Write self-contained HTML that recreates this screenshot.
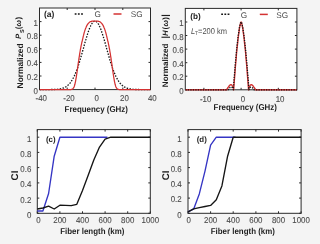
<!DOCTYPE html>
<html><head><meta charset="utf-8"><style>
html,body{margin:0;padding:0;background:#f4f4f4;width:320px;height:244px;overflow:hidden}
svg{display:block;will-change:transform}
</style></head><body>
<svg text-rendering="geometricPrecision" width="320" height="244" viewBox="0 0 320 244" font-family='"Liberation Sans", sans-serif'>
<rect width="320" height="244" fill="#f4f4f4"/>
<clipPath id="ca"><rect x="39.5" y="8.0" width="111.0" height="83.6"/></clipPath>
<rect x="39.5" y="8" width="111" height="81.6" fill="#fff"/>
<rect x="39.5" y="8" width="111" height="81.6" fill="none" stroke="#2a2a2a" stroke-width="1.0"/>
<path d="M39.5 89.6v-2.0M39.5 8v2.0M67.2 89.6v-2.0M67.2 8v2.0M95 89.6v-2.0M95 8v2.0M122.8 89.6v-2.0M122.8 8v2.0M150.5 89.6v-2.0M150.5 8v2.0M39.5 89.6h2.0M150.5 89.6h-2.0M39.5 76h2.0M150.5 76h-2.0M39.5 62.4h2.0M150.5 62.4h-2.0M39.5 48.8h2.0M150.5 48.8h-2.0M39.5 35.2h2.0M150.5 35.2h-2.0M39.5 21.6h2.0M150.5 21.6h-2.0" stroke="#2a2a2a" stroke-width="1" fill="none"/>
<path d="M39.5 89.6 L39.8 89.6 L40.2 89.6 L40.5 89.6 L40.9 89.6 L41.2 89.6 L41.6 89.6 L41.9 89.6 L42.3 89.6 L42.6 89.6 L43 89.6 L43.3 89.6 L43.7 89.6 L44 89.6 L44.4 89.6 L44.7 89.6 L45 89.6 L45.4 89.6 L45.7 89.6 L46.1 89.6 L46.4 89.6 L46.8 89.6 L47.1 89.6 L47.5 89.6 L47.8 89.6 L48.2 89.6 L48.5 89.6 L48.9 89.6 L49.2 89.6 L49.6 89.6 L49.9 89.6 L50.3 89.6 L50.6 89.6 L50.9 89.6 L51.3 89.5 L51.6 89.5 L52 89.5 L52.3 89.5 L52.7 89.5 L53 89.5 L53.4 89.5 L53.7 89.5 L54.1 89.5 L54.4 89.5 L54.8 89.4 L55.1 89.4 L55.5 89.4 L55.8 89.4 L56.1 89.4 L56.5 89.3 L56.8 89.3 L57.2 89.3 L57.5 89.3 L57.9 89.2 L58.2 89.2 L58.6 89.1 L58.9 89.1 L59.3 89 L59.6 89 L60 88.9 L60.3 88.9 L60.7 88.8 L61 88.7 L61.4 88.6 L61.7 88.6 L62 88.5 L62.4 88.4 L62.7 88.2 L63.1 88.1 L63.4 88 L63.8 87.9 L64.1 87.7 L64.5 87.6 L64.8 87.4 L65.2 87.2 L65.5 87 L65.9 86.8 L66.2 86.6 L66.6 86.4 L66.9 86.1 L67.2 85.8 L67.6 85.6 L67.9 85.3 L68.3 84.9 L68.6 84.6 L69 84.3 L69.3 83.9 L69.7 83.5 L70 83.1 L70.4 82.6 L70.7 82.2 L71.1 81.7 L71.4 81.2 L71.8 80.7 L72.1 80.1 L72.5 79.5 L72.8 78.9 L73.1 78.3 L73.5 77.6 L73.8 76.9 L74.2 76.2 L74.5 75.5 L74.9 74.7 L75.2 73.9 L75.6 73.1 L75.9 72.2 L76.3 71.4 L76.6 70.4 L77 69.5 L77.3 68.5 L77.7 67.6 L78 66.5 L78.3 65.5 L78.7 64.5 L79 63.4 L79.4 62.3 L79.7 61.1 L80.1 60 L80.4 58.8 L80.8 57.6 L81.1 56.5 L81.5 55.2 L81.8 54 L82.2 52.8 L82.5 51.5 L82.9 50.3 L83.2 49.1 L83.6 47.8 L83.9 46.6 L84.2 45.3 L84.6 44.1 L84.9 42.8 L85.3 41.6 L85.6 40.4 L86 39.2 L86.3 38 L86.7 36.9 L87 35.7 L87.4 34.6 L87.7 33.5 L88.1 32.5 L88.4 31.4 L88.8 30.5 L89.1 29.5 L89.5 28.6 L89.8 27.7 L90.1 26.9 L90.5 26.2 L90.8 25.4 L91.2 24.8 L91.5 24.1 L91.9 23.6 L92.2 23.1 L92.6 22.6 L92.9 22.2 L93.3 21.9 L93.6 21.6 L94 21.4 L94.3 21.2 L94.7 21.1 L95 21.1 L95.3 21.1 L95.7 21.2 L96 21.4 L96.4 21.6 L96.7 21.9 L97.1 22.2 L97.4 22.6 L97.8 23.1 L98.1 23.6 L98.5 24.1 L98.8 24.8 L99.2 25.4 L99.5 26.2 L99.9 26.9 L100.2 27.7 L100.6 28.6 L100.9 29.5 L101.2 30.5 L101.6 31.4 L101.9 32.5 L102.3 33.5 L102.6 34.6 L103 35.7 L103.3 36.9 L103.7 38 L104 39.2 L104.4 40.4 L104.7 41.6 L105.1 42.8 L105.4 44.1 L105.8 45.3 L106.1 46.6 L106.4 47.8 L106.8 49.1 L107.1 50.3 L107.5 51.5 L107.8 52.8 L108.2 54 L108.5 55.2 L108.9 56.5 L109.2 57.6 L109.6 58.8 L109.9 60 L110.3 61.1 L110.6 62.3 L111 63.4 L111.3 64.5 L111.7 65.5 L112 66.5 L112.3 67.6 L112.7 68.5 L113 69.5 L113.4 70.4 L113.7 71.4 L114.1 72.2 L114.4 73.1 L114.8 73.9 L115.1 74.7 L115.5 75.5 L115.8 76.2 L116.2 76.9 L116.5 77.6 L116.9 78.3 L117.2 78.9 L117.5 79.5 L117.9 80.1 L118.2 80.7 L118.6 81.2 L118.9 81.7 L119.3 82.2 L119.6 82.6 L120 83.1 L120.3 83.5 L120.7 83.9 L121 84.3 L121.4 84.6 L121.7 84.9 L122.1 85.3 L122.4 85.6 L122.8 85.8 L123.1 86.1 L123.4 86.4 L123.8 86.6 L124.1 86.8 L124.5 87 L124.8 87.2 L125.2 87.4 L125.5 87.6 L125.9 87.7 L126.2 87.9 L126.6 88 L126.9 88.1 L127.3 88.2 L127.6 88.4 L128 88.5 L128.3 88.6 L128.6 88.6 L129 88.7 L129.3 88.8 L129.7 88.9 L130 88.9 L130.4 89 L130.7 89 L131.1 89.1 L131.4 89.1 L131.8 89.2 L132.1 89.2 L132.5 89.3 L132.8 89.3 L133.2 89.3 L133.5 89.3 L133.8 89.4 L134.2 89.4 L134.5 89.4 L134.9 89.4 L135.2 89.4 L135.6 89.5 L135.9 89.5 L136.3 89.5 L136.6 89.5 L137 89.5 L137.3 89.5 L137.7 89.5 L138 89.5 L138.4 89.5 L138.7 89.5 L139.1 89.6 L139.4 89.6 L139.7 89.6 L140.1 89.6 L140.4 89.6 L140.8 89.6 L141.1 89.6 L141.5 89.6 L141.8 89.6 L142.2 89.6 L142.5 89.6 L142.9 89.6 L143.2 89.6 L143.6 89.6 L143.9 89.6 L144.3 89.6 L144.6 89.6 L144.9 89.6 L145.3 89.6 L145.6 89.6 L146 89.6 L146.3 89.6 L146.7 89.6 L147 89.6 L147.4 89.6 L147.7 89.6 L148.1 89.6 L148.4 89.6 L148.8 89.6 L149.1 89.6 L149.5 89.6 L149.8 89.6 L150.2 89.6 L150.5 89.6" stroke="#151515" stroke-width="1.3" fill="none" stroke-linejoin="round" stroke-dasharray="1.5 1.4" clip-path="url(#ca)"/>
<path d="M39.5 89.6 L39.8 89.6 L40.2 89.6 L40.5 89.6 L40.9 89.6 L41.2 89.6 L41.6 89.6 L41.9 89.6 L42.3 89.6 L42.6 89.6 L43 89.6 L43.3 89.6 L43.7 89.6 L44 89.6 L44.4 89.6 L44.7 89.6 L45 89.6 L45.4 89.6 L45.7 89.6 L46.1 89.6 L46.4 89.6 L46.8 89.6 L47.1 89.6 L47.5 89.6 L47.8 89.6 L48.2 89.6 L48.5 89.6 L48.9 89.6 L49.2 89.6 L49.6 89.6 L49.9 89.6 L50.3 89.6 L50.6 89.6 L50.9 89.6 L51.3 89.6 L51.6 89.6 L52 89.6 L52.3 89.6 L52.7 89.6 L53 89.6 L53.4 89.6 L53.7 89.6 L54.1 89.6 L54.4 89.6 L54.8 89.6 L55.1 89.6 L55.5 89.6 L55.8 89.6 L56.1 89.6 L56.5 89.6 L56.8 89.6 L57.2 89.6 L57.5 89.6 L57.9 89.6 L58.2 89.6 L58.6 89.6 L58.9 89.6 L59.3 89.6 L59.6 89.6 L60 89.6 L60.3 89.6 L60.7 89.6 L61 89.6 L61.4 89.6 L61.7 89.6 L62 89.6 L62.4 89.6 L62.7 89.6 L63.1 89.6 L63.4 89.6 L63.8 89.6 L64.1 89.6 L64.5 89.6 L64.8 89.6 L65.2 89.6 L65.5 89.6 L65.9 89.6 L66.2 89.6 L66.6 89.6 L66.9 89.6 L67.2 89.6 L67.6 89.6 L67.9 89.6 L68.3 89.6 L68.6 89.6 L69 89.6 L69.3 89.6 L69.7 89.6 L70 89.6 L70.4 89.6 L70.7 89.5 L71.1 89.5 L71.4 89.4 L71.8 89.4 L72.1 89.2 L72.5 89 L72.8 88.8 L73.1 88.4 L73.5 88 L73.8 87.4 L74.2 86.7 L74.5 85.6 L74.9 84.3 L75.2 82.8 L75.6 81.1 L75.9 79.2 L76.3 77.1 L76.6 74.9 L77 72.5 L77.3 70.1 L77.7 67.7 L78 65.3 L78.3 62.8 L78.7 60.4 L79 58.1 L79.4 55.8 L79.7 53.6 L80.1 51.5 L80.4 49.5 L80.8 47.6 L81.1 45.8 L81.5 44.1 L81.8 42.5 L82.2 41 L82.5 39.6 L82.9 38.1 L83.2 36.6 L83.6 35.2 L83.9 33.9 L84.2 32.6 L84.6 31.4 L84.9 30.3 L85.3 29.3 L85.6 28.4 L86 27.5 L86.3 26.7 L86.7 25.9 L87 25.3 L87.4 24.7 L87.7 24.1 L88.1 23.7 L88.4 23.2 L88.8 22.9 L89.1 22.5 L89.5 22.3 L89.8 22 L90.1 21.8 L90.5 21.6 L90.8 21.5 L91.2 21.4 L91.5 21.3 L91.9 21.2 L92.2 21.2 L92.6 21.2 L92.9 21.1 L93.3 21.1 L93.6 21.1 L94 21.1 L94.3 21.1 L94.7 21.1 L95 21.1 L95.3 21.1 L95.7 21.1 L96 21.1 L96.4 21.1 L96.7 21.1 L97.1 21.1 L97.4 21.2 L97.8 21.2 L98.1 21.2 L98.5 21.3 L98.8 21.4 L99.2 21.5 L99.5 21.6 L99.9 21.8 L100.2 22 L100.6 22.3 L100.9 22.5 L101.2 22.9 L101.6 23.2 L101.9 23.7 L102.3 24.1 L102.6 24.7 L103 25.3 L103.3 25.9 L103.7 26.7 L104 27.5 L104.4 28.4 L104.7 29.3 L105.1 30.3 L105.4 31.4 L105.8 32.6 L106.1 33.9 L106.4 35.2 L106.8 36.6 L107.1 38.1 L107.5 39.6 L107.8 41 L108.2 42.5 L108.5 44.1 L108.9 45.8 L109.2 47.6 L109.6 49.5 L109.9 51.5 L110.3 53.6 L110.6 55.8 L111 58.1 L111.3 60.4 L111.7 62.8 L112 65.3 L112.3 67.7 L112.7 70.1 L113 72.5 L113.4 74.9 L113.7 77.1 L114.1 79.2 L114.4 81.1 L114.8 82.8 L115.1 84.3 L115.5 85.6 L115.8 86.7 L116.2 87.4 L116.5 88 L116.9 88.4 L117.2 88.8 L117.5 89 L117.9 89.2 L118.2 89.4 L118.6 89.4 L118.9 89.5 L119.3 89.5 L119.6 89.6 L120 89.6 L120.3 89.6 L120.7 89.6 L121 89.6 L121.4 89.6 L121.7 89.6 L122.1 89.6 L122.4 89.6 L122.8 89.6 L123.1 89.6 L123.4 89.6 L123.8 89.6 L124.1 89.6 L124.5 89.6 L124.8 89.6 L125.2 89.6 L125.5 89.6 L125.9 89.6 L126.2 89.6 L126.6 89.6 L126.9 89.6 L127.3 89.6 L127.6 89.6 L128 89.6 L128.3 89.6 L128.6 89.6 L129 89.6 L129.3 89.6 L129.7 89.6 L130 89.6 L130.4 89.6 L130.7 89.6 L131.1 89.6 L131.4 89.6 L131.8 89.6 L132.1 89.6 L132.5 89.6 L132.8 89.6 L133.2 89.6 L133.5 89.6 L133.8 89.6 L134.2 89.6 L134.5 89.6 L134.9 89.6 L135.2 89.6 L135.6 89.6 L135.9 89.6 L136.3 89.6 L136.6 89.6 L137 89.6 L137.3 89.6 L137.7 89.6 L138 89.6 L138.4 89.6 L138.7 89.6 L139.1 89.6 L139.4 89.6 L139.7 89.6 L140.1 89.6 L140.4 89.6 L140.8 89.6 L141.1 89.6 L141.5 89.6 L141.8 89.6 L142.2 89.6 L142.5 89.6 L142.9 89.6 L143.2 89.6 L143.6 89.6 L143.9 89.6 L144.3 89.6 L144.6 89.6 L144.9 89.6 L145.3 89.6 L145.6 89.6 L146 89.6 L146.3 89.6 L146.7 89.6 L147 89.6 L147.4 89.6 L147.7 89.6 L148.1 89.6 L148.4 89.6 L148.8 89.6 L149.1 89.6 L149.5 89.6 L149.8 89.6 L150.2 89.6 L150.5 89.6" stroke="#d43232" stroke-width="1.25" fill="none" stroke-linejoin="round" clip-path="url(#ca)"/>
<text transform="translate(41.3,100.8) scale(0.93,1)" font-size="8.5" text-anchor="middle" fill="#4a4a4a" stroke="#4a4a4a" stroke-width="0.1">-40</text>
<text transform="translate(69,100.8) scale(0.93,1)" font-size="8.5" text-anchor="middle" fill="#4a4a4a" stroke="#4a4a4a" stroke-width="0.1">-20</text>
<text transform="translate(96.8,100.8) scale(0.93,1)" font-size="8.5" text-anchor="middle" fill="#4a4a4a" stroke="#4a4a4a" stroke-width="0.1">0</text>
<text transform="translate(124.5,100.8) scale(0.93,1)" font-size="8.5" text-anchor="middle" fill="#4a4a4a" stroke="#4a4a4a" stroke-width="0.1">20</text>
<text transform="translate(152.3,100.8) scale(0.93,1)" font-size="8.5" text-anchor="middle" fill="#4a4a4a" stroke="#4a4a4a" stroke-width="0.1">40</text>
<text transform="translate(37.8,93.5) scale(0.93,1)" font-size="8.5" text-anchor="end" fill="#4a4a4a" stroke="#4a4a4a" stroke-width="0.1">0</text>
<text transform="translate(37.8,79.9) scale(0.93,1)" font-size="8.5" text-anchor="end" fill="#4a4a4a" stroke="#4a4a4a" stroke-width="0.1">0.2</text>
<text transform="translate(37.8,66.3) scale(0.93,1)" font-size="8.5" text-anchor="end" fill="#4a4a4a" stroke="#4a4a4a" stroke-width="0.1">0.4</text>
<text transform="translate(37.8,52.7) scale(0.93,1)" font-size="8.5" text-anchor="end" fill="#4a4a4a" stroke="#4a4a4a" stroke-width="0.1">0.6</text>
<text transform="translate(37.8,39.1) scale(0.93,1)" font-size="8.5" text-anchor="end" fill="#4a4a4a" stroke="#4a4a4a" stroke-width="0.1">0.8</text>
<text transform="translate(37.8,25.5) scale(0.93,1)" font-size="8.5" text-anchor="end" fill="#4a4a4a" stroke="#4a4a4a" stroke-width="0.1">1</text>
<text transform="translate(96.2,112.4) scale(0.93,1)" font-size="8.5" text-anchor="middle" font-weight="bold" fill="#1e1e1e">Frequency (GHz)</text>
<text x="43.9" y="17.4" font-size="8.5" text-anchor="start" font-weight="bold" font-style="normal" fill="#1e1e1e">(a)</text>
<path d="M74.7 14 L82.9 14" stroke="#151515" stroke-width="1.5" fill="none" stroke-linejoin="round" stroke-dasharray="1.8 1.4"/>
<text x="94.5" y="17.2" font-size="8.2" text-anchor="start" font-weight="normal" font-style="normal" fill="#4a4a4a">G</text>
<path d="M113.5 14 L121.5 14" stroke="#d43232" stroke-width="1.5" fill="none" stroke-linejoin="round"/>
<text x="130.7" y="17.2" font-size="8.2" text-anchor="start" font-weight="normal" font-style="normal" fill="#4a4a4a">SG</text>
<text transform="translate(23.3,88.4) rotate(-90)" font-size="8.35" font-weight="bold" font-style="normal" fill="#1e1e1e">Normalized</text>
<text transform="translate(21.1,39) rotate(-90)" font-size="7.8" font-weight="bold" font-style="italic" fill="#1e1e1e">P</text>
<text transform="translate(24,33) rotate(-90)" font-size="5.6" font-weight="bold" font-style="normal" fill="#1e1e1e">S</text>
<text transform="translate(21.2,29.3) rotate(-90)" font-size="7.8" font-weight="bold" font-style="normal" fill="#1e1e1e">(<tspan font-style="italic" dx="0.3">ω</tspan><tspan dx="0.3">)</tspan></text>
<clipPath id="cb"><rect x="185.3" y="8.4" width="111.59999999999997" height="82.6"/></clipPath>
<rect x="185.3" y="8.4" width="111.6" height="81.4" fill="#fff"/>
<rect x="185.3" y="8.4" width="111.6" height="81.4" fill="none" stroke="#2a2a2a" stroke-width="1.0"/>
<path d="M203.9 89.8v-2.0M203.9 8.4v2.0M241.1 89.8v-2.0M241.1 8.4v2.0M278.3 89.8v-2.0M278.3 8.4v2.0M185.3 89.8h2.0M296.9 89.8h-2.0M185.3 76.2h2.0M296.9 76.2h-2.0M185.3 62.7h2.0M296.9 62.7h-2.0M185.3 49.1h2.0M296.9 49.1h-2.0M185.3 35.5h2.0M296.9 35.5h-2.0M185.3 22h2.0M296.9 22h-2.0" stroke="#2a2a2a" stroke-width="1" fill="none"/>
<path d="M185.3 89.8 L185.5 89.8 L185.7 89.8 L185.9 89.8 L186 89.8 L186.2 89.8 L186.4 89.8 L186.6 89.8 L186.8 89.8 L187 89.8 L187.2 89.8 L187.3 89.8 L187.5 89.8 L187.7 89.8 L187.9 89.8 L188.1 89.8 L188.3 89.8 L188.5 89.8 L188.6 89.8 L188.8 89.8 L189 89.8 L189.2 89.8 L189.4 89.8 L189.6 89.8 L189.8 89.8 L190 89.8 L190.1 89.8 L190.3 89.8 L190.5 89.8 L190.7 89.8 L190.9 89.8 L191.1 89.8 L191.3 89.8 L191.4 89.8 L191.6 89.8 L191.8 89.8 L192 89.8 L192.2 89.8 L192.4 89.8 L192.6 89.8 L192.7 89.8 L192.9 89.8 L193.1 89.8 L193.3 89.8 L193.5 89.8 L193.7 89.8 L193.9 89.8 L194 89.8 L194.2 89.8 L194.4 89.8 L194.6 89.8 L194.8 89.8 L195 89.8 L195.2 89.8 L195.3 89.8 L195.5 89.8 L195.7 89.8 L195.9 89.8 L196.1 89.8 L196.3 89.8 L196.5 89.8 L196.6 89.8 L196.8 89.8 L197 89.8 L197.2 89.8 L197.4 89.8 L197.6 89.8 L197.8 89.8 L197.9 89.8 L198.1 89.8 L198.3 89.8 L198.5 89.8 L198.7 89.8 L198.9 89.8 L199.1 89.8 L199.2 89.8 L199.4 89.8 L199.6 89.8 L199.8 89.8 L200 89.8 L200.2 89.8 L200.4 89.8 L200.6 89.8 L200.7 89.8 L200.9 89.8 L201.1 89.8 L201.3 89.8 L201.5 89.8 L201.7 89.8 L201.9 89.8 L202 89.8 L202.2 89.8 L202.4 89.8 L202.6 89.8 L202.8 89.8 L203 89.8 L203.2 89.8 L203.3 89.8 L203.5 89.8 L203.7 89.8 L203.9 89.8 L204.1 89.8 L204.3 89.8 L204.5 89.8 L204.6 89.8 L204.8 89.8 L205 89.8 L205.2 89.8 L205.4 89.8 L205.6 89.8 L205.8 89.8 L205.9 89.8 L206.1 89.8 L206.3 89.8 L206.5 89.8 L206.7 89.8 L206.9 89.8 L207.1 89.8 L207.2 89.8 L207.4 89.8 L207.6 89.8 L207.8 89.8 L208 89.8 L208.2 89.8 L208.4 89.8 L208.6 89.8 L208.7 89.8 L208.9 89.8 L209.1 89.8 L209.3 89.8 L209.5 89.8 L209.7 89.8 L209.9 89.8 L210 89.8 L210.2 89.8 L210.4 89.8 L210.6 89.8 L210.8 89.8 L211 89.8 L211.2 89.8 L211.3 89.8 L211.5 89.8 L211.7 89.8 L211.9 89.8 L212.1 89.8 L212.3 89.8 L212.5 89.8 L212.6 89.8 L212.8 89.8 L213 89.8 L213.2 89.8 L213.4 89.8 L213.6 89.8 L213.8 89.8 L213.9 89.8 L214.1 89.8 L214.3 89.8 L214.5 89.8 L214.7 89.8 L214.9 89.8 L215.1 89.8 L215.2 89.8 L215.4 89.8 L215.6 89.8 L215.8 89.8 L216 89.8 L216.2 89.8 L216.4 89.8 L216.5 89.8 L216.7 89.8 L216.9 89.8 L217.1 89.8 L217.3 89.8 L217.5 89.8 L217.7 89.8 L217.8 89.8 L218 89.8 L218.2 89.8 L218.4 89.8 L218.6 89.8 L218.8 89.8 L219 89.8 L219.2 89.8 L219.3 89.8 L219.5 89.8 L219.7 89.8 L219.9 89.8 L220.1 89.8 L220.3 89.8 L220.5 89.8 L220.6 89.8 L220.8 89.8 L221 89.8 L221.2 89.8 L221.4 89.8 L221.6 89.8 L221.8 89.8 L221.9 89.8 L222.1 89.8 L222.3 89.8 L222.5 89.8 L222.7 89.8 L222.9 89.8 L223.1 89.8 L223.2 89.8 L223.4 89.8 L223.6 89.8 L223.8 89.8 L224 89.8 L224.2 89.8 L224.4 89.8 L224.5 89.8 L224.7 89.8 L224.9 89.8 L225.1 89.8 L225.3 89.8 L225.5 89.8 L225.7 89.8 L225.8 89.8 L226 89.8 L226.2 89.8 L226.4 89.8 L226.6 89.8 L226.8 89.5 L227 89.2 L227.2 88.9 L227.3 88.6 L227.5 88.3 L227.7 88 L227.9 87.7 L228.1 87.4 L228.3 87.1 L228.5 86.8 L228.6 86.6 L228.8 86.3 L229 86.1 L229.2 85.9 L229.4 85.7 L229.6 85.5 L229.8 85.3 L229.9 85.1 L230.1 85 L230.3 84.9 L230.5 84.8 L230.7 84.7 L230.9 84.7 L231.1 84.7 L231.2 84.7 L231.4 84.8 L231.6 84.9 L231.8 85.1 L232 85.2 L232.2 85.5 L232.4 85.7 L232.5 86 L232.7 86.4 L232.9 86.8 L233.1 87.3 L233.3 87.9 L233.5 88.6 L233.7 89.8 L233.8 87.2 L234 84.6 L234.2 82.1 L234.4 79.6 L234.6 77.1 L234.8 74.7 L235 72.3 L235.1 70 L235.3 67.7 L235.5 65.4 L235.7 63.2 L235.9 61 L236.1 58.9 L236.3 56.8 L236.4 54.7 L236.6 52.7 L236.8 50.7 L237 48.8 L237.2 47 L237.4 45.1 L237.6 43.4 L237.8 41.6 L237.9 40 L238.1 38.4 L238.3 36.8 L238.5 35.3 L238.7 33.8 L238.9 32.5 L239.1 31.1 L239.2 29.9 L239.4 28.7 L239.6 27.6 L239.8 26.5 L240 25.6 L240.2 24.7 L240.4 23.9 L240.5 23.2 L240.7 22.6 L240.9 22.2 L241.1 22 L241.3 22.2 L241.5 22.6 L241.7 23.2 L241.8 23.9 L242 24.7 L242.2 25.6 L242.4 26.5 L242.6 27.6 L242.8 28.7 L243 29.9 L243.1 31.1 L243.3 32.5 L243.5 33.8 L243.7 35.3 L243.9 36.8 L244.1 38.4 L244.3 40 L244.4 41.6 L244.6 43.4 L244.8 45.1 L245 47 L245.2 48.8 L245.4 50.7 L245.6 52.7 L245.8 54.7 L245.9 56.8 L246.1 58.9 L246.3 61 L246.5 63.2 L246.7 65.4 L246.9 67.7 L247.1 70 L247.2 72.3 L247.4 74.7 L247.6 77.1 L247.8 79.6 L248 82.1 L248.2 84.6 L248.4 87.2 L248.5 89.8 L248.7 88.6 L248.9 87.9 L249.1 87.3 L249.3 86.8 L249.5 86.4 L249.7 86 L249.8 85.7 L250 85.5 L250.2 85.2 L250.4 85.1 L250.6 84.9 L250.8 84.8 L251 84.7 L251.1 84.7 L251.3 84.7 L251.5 84.7 L251.7 84.8 L251.9 84.9 L252.1 85 L252.3 85.1 L252.4 85.3 L252.6 85.5 L252.8 85.7 L253 85.9 L253.2 86.1 L253.4 86.3 L253.6 86.6 L253.7 86.8 L253.9 87.1 L254.1 87.4 L254.3 87.7 L254.5 88 L254.7 88.3 L254.9 88.6 L255 88.9 L255.2 89.2 L255.4 89.5 L255.6 89.8 L255.8 89.8 L256 89.8 L256.2 89.8 L256.4 89.8 L256.5 89.8 L256.7 89.8 L256.9 89.8 L257.1 89.8 L257.3 89.8 L257.5 89.8 L257.7 89.8 L257.8 89.8 L258 89.8 L258.2 89.8 L258.4 89.8 L258.6 89.8 L258.8 89.8 L259 89.8 L259.1 89.8 L259.3 89.8 L259.5 89.8 L259.7 89.8 L259.9 89.8 L260.1 89.8 L260.3 89.8 L260.4 89.8 L260.6 89.8 L260.8 89.8 L261 89.8 L261.2 89.8 L261.4 89.8 L261.6 89.8 L261.7 89.8 L261.9 89.8 L262.1 89.8 L262.3 89.8 L262.5 89.8 L262.7 89.8 L262.9 89.8 L263 89.8 L263.2 89.8 L263.4 89.8 L263.6 89.8 L263.8 89.8 L264 89.8 L264.2 89.8 L264.4 89.8 L264.5 89.8 L264.7 89.8 L264.9 89.8 L265.1 89.8 L265.3 89.8 L265.5 89.8 L265.7 89.8 L265.8 89.8 L266 89.8 L266.2 89.8 L266.4 89.8 L266.6 89.8 L266.8 89.8 L267 89.8 L267.1 89.8 L267.3 89.8 L267.5 89.8 L267.7 89.8 L267.9 89.8 L268.1 89.8 L268.3 89.8 L268.4 89.8 L268.6 89.8 L268.8 89.8 L269 89.8 L269.2 89.8 L269.4 89.8 L269.6 89.8 L269.7 89.8 L269.9 89.8 L270.1 89.8 L270.3 89.8 L270.5 89.8 L270.7 89.8 L270.9 89.8 L271 89.8 L271.2 89.8 L271.4 89.8 L271.6 89.8 L271.8 89.8 L272 89.8 L272.2 89.8 L272.3 89.8 L272.5 89.8 L272.7 89.8 L272.9 89.8 L273.1 89.8 L273.3 89.8 L273.5 89.8 L273.6 89.8 L273.8 89.8 L274 89.8 L274.2 89.8 L274.4 89.8 L274.6 89.8 L274.8 89.8 L275 89.8 L275.1 89.8 L275.3 89.8 L275.5 89.8 L275.7 89.8 L275.9 89.8 L276.1 89.8 L276.3 89.8 L276.4 89.8 L276.6 89.8 L276.8 89.8 L277 89.8 L277.2 89.8 L277.4 89.8 L277.6 89.8 L277.7 89.8 L277.9 89.8 L278.1 89.8 L278.3 89.8 L278.5 89.8 L278.7 89.8 L278.9 89.8 L279 89.8 L279.2 89.8 L279.4 89.8 L279.6 89.8 L279.8 89.8 L280 89.8 L280.2 89.8 L280.3 89.8 L280.5 89.8 L280.7 89.8 L280.9 89.8 L281.1 89.8 L281.3 89.8 L281.5 89.8 L281.6 89.8 L281.8 89.8 L282 89.8 L282.2 89.8 L282.4 89.8 L282.6 89.8 L282.8 89.8 L282.9 89.8 L283.1 89.8 L283.3 89.8 L283.5 89.8 L283.7 89.8 L283.9 89.8 L284.1 89.8 L284.3 89.8 L284.4 89.8 L284.6 89.8 L284.8 89.8 L285 89.8 L285.2 89.8 L285.4 89.8 L285.6 89.8 L285.7 89.8 L285.9 89.8 L286.1 89.8 L286.3 89.8 L286.5 89.8 L286.7 89.8 L286.9 89.8 L287 89.8 L287.2 89.8 L287.4 89.8 L287.6 89.8 L287.8 89.8 L288 89.8 L288.2 89.8 L288.3 89.8 L288.5 89.8 L288.7 89.8 L288.9 89.8 L289.1 89.8 L289.3 89.8 L289.5 89.8 L289.6 89.8 L289.8 89.8 L290 89.8 L290.2 89.8 L290.4 89.8 L290.6 89.8 L290.8 89.8 L290.9 89.8 L291.1 89.8 L291.3 89.8 L291.5 89.8 L291.7 89.8 L291.9 89.8 L292.1 89.8 L292.2 89.8 L292.4 89.8 L292.6 89.8 L292.8 89.8 L293 89.8 L293.2 89.8 L293.4 89.8 L293.6 89.8 L293.7 89.8 L293.9 89.8 L294.1 89.8 L294.3 89.8 L294.5 89.8 L294.7 89.8 L294.9 89.8 L295 89.8 L295.2 89.8 L295.4 89.8 L295.6 89.8 L295.8 89.8 L296 89.8 L296.2 89.8 L296.3 89.8 L296.5 89.8 L296.7 89.8 L296.9 89.8" stroke="#d43232" stroke-width="1.4" fill="none" stroke-linejoin="round" clip-path="url(#cb)"/>
<path d="M185.3 89.8 L185.5 89.8 L185.7 89.8 L185.9 89.8 L186 89.8 L186.2 89.8 L186.4 89.8 L186.6 89.8 L186.8 89.8 L187 89.8 L187.2 89.8 L187.3 89.8 L187.5 89.8 L187.7 89.8 L187.9 89.8 L188.1 89.8 L188.3 89.8 L188.5 89.8 L188.6 89.8 L188.8 89.8 L189 89.8 L189.2 89.8 L189.4 89.8 L189.6 89.8 L189.8 89.8 L190 89.8 L190.1 89.8 L190.3 89.8 L190.5 89.8 L190.7 89.8 L190.9 89.8 L191.1 89.8 L191.3 89.8 L191.4 89.8 L191.6 89.8 L191.8 89.8 L192 89.8 L192.2 89.8 L192.4 89.8 L192.6 89.8 L192.7 89.8 L192.9 89.8 L193.1 89.8 L193.3 89.8 L193.5 89.8 L193.7 89.8 L193.9 89.8 L194 89.8 L194.2 89.8 L194.4 89.8 L194.6 89.8 L194.8 89.8 L195 89.8 L195.2 89.8 L195.3 89.8 L195.5 89.8 L195.7 89.8 L195.9 89.8 L196.1 89.8 L196.3 89.8 L196.5 89.8 L196.6 89.8 L196.8 89.8 L197 89.8 L197.2 89.8 L197.4 89.8 L197.6 89.8 L197.8 89.8 L197.9 89.8 L198.1 89.8 L198.3 89.8 L198.5 89.8 L198.7 89.8 L198.9 89.8 L199.1 89.8 L199.2 89.8 L199.4 89.8 L199.6 89.8 L199.8 89.8 L200 89.8 L200.2 89.8 L200.4 89.8 L200.6 89.8 L200.7 89.8 L200.9 89.8 L201.1 89.8 L201.3 89.8 L201.5 89.8 L201.7 89.8 L201.9 89.8 L202 89.8 L202.2 89.8 L202.4 89.8 L202.6 89.8 L202.8 89.8 L203 89.8 L203.2 89.8 L203.3 89.8 L203.5 89.8 L203.7 89.8 L203.9 89.8 L204.1 89.8 L204.3 89.8 L204.5 89.8 L204.6 89.8 L204.8 89.8 L205 89.8 L205.2 89.8 L205.4 89.8 L205.6 89.8 L205.8 89.8 L205.9 89.8 L206.1 89.8 L206.3 89.8 L206.5 89.8 L206.7 89.8 L206.9 89.8 L207.1 89.8 L207.2 89.8 L207.4 89.8 L207.6 89.8 L207.8 89.8 L208 89.8 L208.2 89.8 L208.4 89.8 L208.6 89.8 L208.7 89.8 L208.9 89.8 L209.1 89.8 L209.3 89.8 L209.5 89.8 L209.7 89.8 L209.9 89.8 L210 89.8 L210.2 89.8 L210.4 89.8 L210.6 89.8 L210.8 89.8 L211 89.8 L211.2 89.8 L211.3 89.8 L211.5 89.8 L211.7 89.8 L211.9 89.8 L212.1 89.8 L212.3 89.8 L212.5 89.8 L212.6 89.8 L212.8 89.8 L213 89.8 L213.2 89.8 L213.4 89.8 L213.6 89.8 L213.8 89.8 L213.9 89.8 L214.1 89.8 L214.3 89.8 L214.5 89.8 L214.7 89.8 L214.9 89.8 L215.1 89.8 L215.2 89.8 L215.4 89.8 L215.6 89.8 L215.8 89.8 L216 89.8 L216.2 89.8 L216.4 89.8 L216.5 89.8 L216.7 89.8 L216.9 89.8 L217.1 89.8 L217.3 89.8 L217.5 89.8 L217.7 89.8 L217.8 89.8 L218 89.8 L218.2 89.8 L218.4 89.8 L218.6 89.8 L218.8 89.8 L219 89.8 L219.2 89.8 L219.3 89.8 L219.5 89.8 L219.7 89.8 L219.9 89.8 L220.1 89.8 L220.3 89.8 L220.5 89.8 L220.6 89.8 L220.8 89.8 L221 89.8 L221.2 89.8 L221.4 89.8 L221.6 89.8 L221.8 89.8 L221.9 89.8 L222.1 89.8 L222.3 89.8 L222.5 89.8 L222.7 89.8 L222.9 89.8 L223.1 89.8 L223.2 89.8 L223.4 89.8 L223.6 89.8 L223.8 89.8 L224 89.8 L224.2 89.8 L224.4 89.8 L224.5 89.8 L224.7 89.8 L224.9 89.8 L225.1 89.8 L225.3 89.8 L225.5 89.8 L225.7 89.8 L225.8 89.8 L226 89.8 L226.2 89.8 L226.4 89.8 L226.6 89.8 L226.8 89.8 L227 89.8 L227.2 89.8 L227.3 89.8 L227.5 89.8 L227.7 89.8 L227.9 89.8 L228.1 89.8 L228.3 89.6 L228.5 89.3 L228.6 89.1 L228.8 88.8 L229 88.6 L229.2 88.4 L229.4 88.2 L229.6 88 L229.8 87.8 L229.9 87.6 L230.1 87.5 L230.3 87.3 L230.5 87.2 L230.7 87.2 L230.9 87.1 L231.1 87.1 L231.2 87.1 L231.4 87.1 L231.6 87.2 L231.8 87.3 L232 87.5 L232.2 87.6 L232.4 87.9 L232.5 88.1 L232.7 88.4 L232.9 88.8 L233.1 89.2 L233.3 89.8 L233.5 87.2 L233.7 84.7 L233.8 82.2 L234 79.8 L234.2 77.3 L234.4 75 L234.6 72.6 L234.8 70.3 L235 68.1 L235.1 65.9 L235.3 63.7 L235.5 61.6 L235.7 59.5 L235.9 57.4 L236.1 55.4 L236.3 53.5 L236.4 51.5 L236.6 49.7 L236.8 47.8 L237 46.1 L237.2 44.3 L237.4 42.7 L237.6 41 L237.8 39.5 L237.9 37.9 L238.1 36.4 L238.3 35 L238.5 33.7 L238.7 32.4 L238.9 31.1 L239.1 29.9 L239.2 28.8 L239.4 27.7 L239.6 26.7 L239.8 25.8 L240 25 L240.2 24.2 L240.4 23.5 L240.5 23 L240.7 22.5 L240.9 22.1 L241.1 22 L241.3 22.1 L241.5 22.5 L241.7 23 L241.8 23.5 L242 24.2 L242.2 25 L242.4 25.8 L242.6 26.7 L242.8 27.7 L243 28.8 L243.1 29.9 L243.3 31.1 L243.5 32.4 L243.7 33.7 L243.9 35 L244.1 36.4 L244.3 37.9 L244.4 39.5 L244.6 41 L244.8 42.7 L245 44.3 L245.2 46.1 L245.4 47.8 L245.6 49.7 L245.8 51.5 L245.9 53.5 L246.1 55.4 L246.3 57.4 L246.5 59.5 L246.7 61.6 L246.9 63.7 L247.1 65.9 L247.2 68.1 L247.4 70.3 L247.6 72.6 L247.8 75 L248 77.3 L248.2 79.8 L248.4 82.2 L248.5 84.7 L248.7 87.2 L248.9 89.8 L249.1 89.2 L249.3 88.8 L249.5 88.4 L249.7 88.1 L249.8 87.9 L250 87.6 L250.2 87.5 L250.4 87.3 L250.6 87.2 L250.8 87.1 L251 87.1 L251.1 87.1 L251.3 87.1 L251.5 87.2 L251.7 87.2 L251.9 87.3 L252.1 87.5 L252.3 87.6 L252.4 87.8 L252.6 88 L252.8 88.2 L253 88.4 L253.2 88.6 L253.4 88.8 L253.6 89.1 L253.7 89.3 L253.9 89.6 L254.1 89.8 L254.3 89.8 L254.5 89.8 L254.7 89.8 L254.9 89.8 L255 89.8 L255.2 89.8 L255.4 89.8 L255.6 89.8 L255.8 89.8 L256 89.8 L256.2 89.8 L256.4 89.8 L256.5 89.8 L256.7 89.8 L256.9 89.8 L257.1 89.8 L257.3 89.8 L257.5 89.8 L257.7 89.8 L257.8 89.8 L258 89.8 L258.2 89.8 L258.4 89.8 L258.6 89.8 L258.8 89.8 L259 89.8 L259.1 89.8 L259.3 89.8 L259.5 89.8 L259.7 89.8 L259.9 89.8 L260.1 89.8 L260.3 89.8 L260.4 89.8 L260.6 89.8 L260.8 89.8 L261 89.8 L261.2 89.8 L261.4 89.8 L261.6 89.8 L261.7 89.8 L261.9 89.8 L262.1 89.8 L262.3 89.8 L262.5 89.8 L262.7 89.8 L262.9 89.8 L263 89.8 L263.2 89.8 L263.4 89.8 L263.6 89.8 L263.8 89.8 L264 89.8 L264.2 89.8 L264.4 89.8 L264.5 89.8 L264.7 89.8 L264.9 89.8 L265.1 89.8 L265.3 89.8 L265.5 89.8 L265.7 89.8 L265.8 89.8 L266 89.8 L266.2 89.8 L266.4 89.8 L266.6 89.8 L266.8 89.8 L267 89.8 L267.1 89.8 L267.3 89.8 L267.5 89.8 L267.7 89.8 L267.9 89.8 L268.1 89.8 L268.3 89.8 L268.4 89.8 L268.6 89.8 L268.8 89.8 L269 89.8 L269.2 89.8 L269.4 89.8 L269.6 89.8 L269.7 89.8 L269.9 89.8 L270.1 89.8 L270.3 89.8 L270.5 89.8 L270.7 89.8 L270.9 89.8 L271 89.8 L271.2 89.8 L271.4 89.8 L271.6 89.8 L271.8 89.8 L272 89.8 L272.2 89.8 L272.3 89.8 L272.5 89.8 L272.7 89.8 L272.9 89.8 L273.1 89.8 L273.3 89.8 L273.5 89.8 L273.6 89.8 L273.8 89.8 L274 89.8 L274.2 89.8 L274.4 89.8 L274.6 89.8 L274.8 89.8 L275 89.8 L275.1 89.8 L275.3 89.8 L275.5 89.8 L275.7 89.8 L275.9 89.8 L276.1 89.8 L276.3 89.8 L276.4 89.8 L276.6 89.8 L276.8 89.8 L277 89.8 L277.2 89.8 L277.4 89.8 L277.6 89.8 L277.7 89.8 L277.9 89.8 L278.1 89.8 L278.3 89.8 L278.5 89.8 L278.7 89.8 L278.9 89.8 L279 89.8 L279.2 89.8 L279.4 89.8 L279.6 89.8 L279.8 89.8 L280 89.8 L280.2 89.8 L280.3 89.8 L280.5 89.8 L280.7 89.8 L280.9 89.8 L281.1 89.8 L281.3 89.8 L281.5 89.8 L281.6 89.8 L281.8 89.8 L282 89.8 L282.2 89.8 L282.4 89.8 L282.6 89.8 L282.8 89.8 L282.9 89.8 L283.1 89.8 L283.3 89.8 L283.5 89.8 L283.7 89.8 L283.9 89.8 L284.1 89.8 L284.3 89.8 L284.4 89.8 L284.6 89.8 L284.8 89.8 L285 89.8 L285.2 89.8 L285.4 89.8 L285.6 89.8 L285.7 89.8 L285.9 89.8 L286.1 89.8 L286.3 89.8 L286.5 89.8 L286.7 89.8 L286.9 89.8 L287 89.8 L287.2 89.8 L287.4 89.8 L287.6 89.8 L287.8 89.8 L288 89.8 L288.2 89.8 L288.3 89.8 L288.5 89.8 L288.7 89.8 L288.9 89.8 L289.1 89.8 L289.3 89.8 L289.5 89.8 L289.6 89.8 L289.8 89.8 L290 89.8 L290.2 89.8 L290.4 89.8 L290.6 89.8 L290.8 89.8 L290.9 89.8 L291.1 89.8 L291.3 89.8 L291.5 89.8 L291.7 89.8 L291.9 89.8 L292.1 89.8 L292.2 89.8 L292.4 89.8 L292.6 89.8 L292.8 89.8 L293 89.8 L293.2 89.8 L293.4 89.8 L293.6 89.8 L293.7 89.8 L293.9 89.8 L294.1 89.8 L294.3 89.8 L294.5 89.8 L294.7 89.8 L294.9 89.8 L295 89.8 L295.2 89.8 L295.4 89.8 L295.6 89.8 L295.8 89.8 L296 89.8 L296.2 89.8 L296.3 89.8 L296.5 89.8 L296.7 89.8 L296.9 89.8" stroke="#151515" stroke-width="1.3" fill="none" stroke-linejoin="round" stroke-dasharray="1.3 1.2" clip-path="url(#cb)"/>
<text transform="translate(205.7,101.5) scale(0.93,1)" font-size="8.5" text-anchor="middle" fill="#4a4a4a" stroke="#4a4a4a" stroke-width="0.1">-10</text>
<text transform="translate(242.9,101.5) scale(0.93,1)" font-size="8.5" text-anchor="middle" fill="#4a4a4a" stroke="#4a4a4a" stroke-width="0.1">0</text>
<text transform="translate(280.1,101.5) scale(0.93,1)" font-size="8.5" text-anchor="middle" fill="#4a4a4a" stroke="#4a4a4a" stroke-width="0.1">10</text>
<text transform="translate(183.6,93.9) scale(0.93,1)" font-size="8.5" text-anchor="end" fill="#4a4a4a" stroke="#4a4a4a" stroke-width="0.1">0</text>
<text transform="translate(183.6,80.3) scale(0.93,1)" font-size="8.5" text-anchor="end" fill="#4a4a4a" stroke="#4a4a4a" stroke-width="0.1">0.2</text>
<text transform="translate(183.6,66.8) scale(0.93,1)" font-size="8.5" text-anchor="end" fill="#4a4a4a" stroke="#4a4a4a" stroke-width="0.1">0.4</text>
<text transform="translate(183.6,53.2) scale(0.93,1)" font-size="8.5" text-anchor="end" fill="#4a4a4a" stroke="#4a4a4a" stroke-width="0.1">0.6</text>
<text transform="translate(183.6,39.6) scale(0.93,1)" font-size="8.5" text-anchor="end" fill="#4a4a4a" stroke="#4a4a4a" stroke-width="0.1">0.8</text>
<text transform="translate(183.6,26.1) scale(0.93,1)" font-size="8.5" text-anchor="end" fill="#4a4a4a" stroke="#4a4a4a" stroke-width="0.1">1</text>
<text transform="translate(245.2,109.5) scale(0.93,1)" font-size="8.5" text-anchor="middle" font-weight="bold" fill="#1e1e1e">Frequency (GHz)</text>
<text x="190.3" y="18.6" font-size="8.2" text-anchor="start" font-weight="bold" font-style="normal" fill="#1e1e1e">(b)</text>
<path d="M221.2 14.3 L229.4 14.3" stroke="#151515" stroke-width="1.5" fill="none" stroke-linejoin="round" stroke-dasharray="1.8 1.4"/>
<text x="240.8" y="17.8" font-size="8.2" text-anchor="start" font-weight="normal" font-style="normal" fill="#4a4a4a">G</text>
<path d="M259.8 14.4 L267.8 14.4" stroke="#d43232" stroke-width="1.5" fill="none" stroke-linejoin="round"/>
<text x="276.2" y="17.9" font-size="8.2" text-anchor="start" font-weight="normal" font-style="normal" fill="#4a4a4a">SG</text>
<text transform="translate(190.9,34.2) scale(0.88,1)" font-size="8.5" fill="#4a4a4a"><tspan font-style="italic">L</tspan><tspan font-size="5.5" dy="1.2">T</tspan><tspan dy="-1.2">=200 km</tspan></text>
<text transform="translate(168.3,87.2) rotate(-90)" font-size="8.1" font-weight="bold" font-style="normal" fill="#1e1e1e">Normalized</text>
<text transform="translate(167.9,38.6) rotate(-90)" font-size="7.8" font-weight="bold" font-style="normal" fill="#1e1e1e"><tspan font-size="9">|</tspan><tspan font-style="italic" dx="0.2">H</tspan><tspan dx="0.8">(</tspan><tspan font-style="italic" dx="0.3">ω</tspan><tspan dx="0.3">)</tspan><tspan font-size="9" dx="0.4">|</tspan></text>
<rect x="37.3" y="129.6" width="113" height="83.7" fill="#fff"/>
<rect x="37.3" y="129.6" width="113" height="83.7" fill="none" stroke="#2a2a2a" stroke-width="1.0"/>
<path d="M37.3 213.3v-2.0M37.3 129.6v2.0M59.9 213.3v-2.0M59.9 129.6v2.0M82.5 213.3v-2.0M82.5 129.6v2.0M105.1 213.3v-2.0M105.1 129.6v2.0M127.7 213.3v-2.0M127.7 129.6v2.0M150.3 213.3v-2.0M150.3 129.6v2.0M37.3 213.3h2.0M150.3 213.3h-2.0M37.3 198.1h2.0M150.3 198.1h-2.0M37.3 182.9h2.0M150.3 182.9h-2.0M37.3 167.6h2.0M150.3 167.6h-2.0M37.3 152.4h2.0M150.3 152.4h-2.0M37.3 137.2h2.0M150.3 137.2h-2.0" stroke="#2a2a2a" stroke-width="1" fill="none"/>
<path d="M37.3 211 L42.9 211 L48.6 193.5 L54.2 156.2 L59.9 137.2 L107.4 137.2" stroke="#3535c4" stroke-width="1.35" fill="none" stroke-linejoin="round"/>
<path d="M37.3 209 L42.9 208 L48.6 206.2 L54.2 209 L59.9 205.2 L65.5 205.3 L71.2 205.7 L76.8 204.3 L82.5 190.5 L88.2 175.3 L93.8 160 L99.5 147.1 L105.1 139.1 L110.8 137.2 L150.3 137.2" stroke="#151515" stroke-width="1.35" fill="none" stroke-linejoin="round"/>
<text transform="translate(38.5,223) scale(0.93,1)" font-size="8.5" text-anchor="middle" fill="#4a4a4a" stroke="#4a4a4a" stroke-width="0.1">0</text>
<text transform="translate(59.9,223) scale(0.93,1)" font-size="8.5" text-anchor="middle" fill="#4a4a4a" stroke="#4a4a4a" stroke-width="0.1">200</text>
<text transform="translate(82.5,223) scale(0.93,1)" font-size="8.5" text-anchor="middle" fill="#4a4a4a" stroke="#4a4a4a" stroke-width="0.1">400</text>
<text transform="translate(105.1,223) scale(0.93,1)" font-size="8.5" text-anchor="middle" fill="#4a4a4a" stroke="#4a4a4a" stroke-width="0.1">600</text>
<text transform="translate(127.7,223) scale(0.93,1)" font-size="8.5" text-anchor="middle" fill="#4a4a4a" stroke="#4a4a4a" stroke-width="0.1">800</text>
<text transform="translate(150.3,223) scale(0.93,1)" font-size="8.5" text-anchor="middle" fill="#4a4a4a" stroke="#4a4a4a" stroke-width="0.1">1000</text>
<text transform="translate(31.3,217.7) scale(0.93,1)" font-size="8.5" text-anchor="end" fill="#4a4a4a" stroke="#4a4a4a" stroke-width="0.1">0</text>
<text transform="translate(31.3,202.5) scale(0.93,1)" font-size="8.5" text-anchor="end" fill="#4a4a4a" stroke="#4a4a4a" stroke-width="0.1">0.2</text>
<text transform="translate(31.3,187.3) scale(0.93,1)" font-size="8.5" text-anchor="end" fill="#4a4a4a" stroke="#4a4a4a" stroke-width="0.1">0.4</text>
<text transform="translate(31.3,172) scale(0.93,1)" font-size="8.5" text-anchor="end" fill="#4a4a4a" stroke="#4a4a4a" stroke-width="0.1">0.6</text>
<text transform="translate(31.3,156.8) scale(0.93,1)" font-size="8.5" text-anchor="end" fill="#4a4a4a" stroke="#4a4a4a" stroke-width="0.1">0.8</text>
<text transform="translate(31.3,141.6) scale(0.93,1)" font-size="8.5" text-anchor="end" fill="#4a4a4a" stroke="#4a4a4a" stroke-width="0.1">1</text>
<text transform="translate(92.3,233.9) scale(0.93,1)" font-size="8.5" text-anchor="middle" font-weight="bold" fill="#1e1e1e">Fiber length (km)</text>
<text x="45.9" y="141.5" font-size="7.9" text-anchor="start" font-weight="bold" font-style="normal" fill="#1e1e1e">(c)</text>
<text transform="translate(17.9,180.4) rotate(-90)" font-size="9.8" font-weight="bold" font-style="normal" fill="#1e1e1e">CI</text>
<rect x="188" y="129.6" width="113.1" height="83.7" fill="#fff"/>
<rect x="188" y="129.6" width="113.1" height="83.7" fill="none" stroke="#2a2a2a" stroke-width="1.0"/>
<path d="M188 213.3v-2.0M188 129.6v2.0M210.6 213.3v-2.0M210.6 129.6v2.0M233.2 213.3v-2.0M233.2 129.6v2.0M255.9 213.3v-2.0M255.9 129.6v2.0M278.5 213.3v-2.0M278.5 129.6v2.0M301.1 213.3v-2.0M301.1 129.6v2.0M188 213.3h2.0M301.1 213.3h-2.0M188 198.1h2.0M301.1 198.1h-2.0M188 182.9h2.0M301.1 182.9h-2.0M188 167.6h2.0M301.1 167.6h-2.0M188 152.4h2.0M301.1 152.4h-2.0M188 137.2h2.0M301.1 137.2h-2.0" stroke="#2a2a2a" stroke-width="1" fill="none"/>
<path d="M188 211.8 L193.7 208.9 L199.3 193.9 L205 171.1 L210.6 145.1 L216.3 137.2 L235.5 137.2" stroke="#3535c4" stroke-width="1.35" fill="none" stroke-linejoin="round"/>
<path d="M188 211.8 L193.7 208.9 L199.3 207.6 L205 206.5 L210.6 205.4 L216.3 199.8 L221.9 185.9 L227.6 156.2 L233.2 137.2 L301.1 137.2" stroke="#151515" stroke-width="1.35" fill="none" stroke-linejoin="round"/>
<text transform="translate(188.7,223.2) scale(0.93,1)" font-size="8.5" text-anchor="middle" fill="#4a4a4a" stroke="#4a4a4a" stroke-width="0.1">0</text>
<text transform="translate(210.6,223.2) scale(0.93,1)" font-size="8.5" text-anchor="middle" fill="#4a4a4a" stroke="#4a4a4a" stroke-width="0.1">200</text>
<text transform="translate(233.2,223.2) scale(0.93,1)" font-size="8.5" text-anchor="middle" fill="#4a4a4a" stroke="#4a4a4a" stroke-width="0.1">400</text>
<text transform="translate(255.9,223.2) scale(0.93,1)" font-size="8.5" text-anchor="middle" fill="#4a4a4a" stroke="#4a4a4a" stroke-width="0.1">600</text>
<text transform="translate(278.5,223.2) scale(0.93,1)" font-size="8.5" text-anchor="middle" fill="#4a4a4a" stroke="#4a4a4a" stroke-width="0.1">800</text>
<text transform="translate(301.1,223.2) scale(0.93,1)" font-size="8.5" text-anchor="middle" fill="#4a4a4a" stroke="#4a4a4a" stroke-width="0.1">1000</text>
<text transform="translate(181.7,217.6) scale(0.93,1)" font-size="8.5" text-anchor="end" fill="#4a4a4a" stroke="#4a4a4a" stroke-width="0.1">0</text>
<text transform="translate(181.7,202.4) scale(0.93,1)" font-size="8.5" text-anchor="end" fill="#4a4a4a" stroke="#4a4a4a" stroke-width="0.1">0.2</text>
<text transform="translate(181.7,187.2) scale(0.93,1)" font-size="8.5" text-anchor="end" fill="#4a4a4a" stroke="#4a4a4a" stroke-width="0.1">0.4</text>
<text transform="translate(181.7,171.9) scale(0.93,1)" font-size="8.5" text-anchor="end" fill="#4a4a4a" stroke="#4a4a4a" stroke-width="0.1">0.6</text>
<text transform="translate(181.7,156.7) scale(0.93,1)" font-size="8.5" text-anchor="end" fill="#4a4a4a" stroke="#4a4a4a" stroke-width="0.1">0.8</text>
<text transform="translate(181.7,141.5) scale(0.93,1)" font-size="8.5" text-anchor="end" fill="#4a4a4a" stroke="#4a4a4a" stroke-width="0.1">1</text>
<text transform="translate(242.8,233.9) scale(0.93,1)" font-size="8.5" text-anchor="middle" font-weight="bold" fill="#1e1e1e">Fiber length (km)</text>
<text x="196.7" y="141.5" font-size="7.9" text-anchor="start" font-weight="bold" font-style="normal" fill="#1e1e1e">(d)</text>
<text transform="translate(168.5,180.3) rotate(-90)" font-size="9.8" font-weight="bold" font-style="normal" fill="#1e1e1e">CI</text>
</svg>
</body></html>
